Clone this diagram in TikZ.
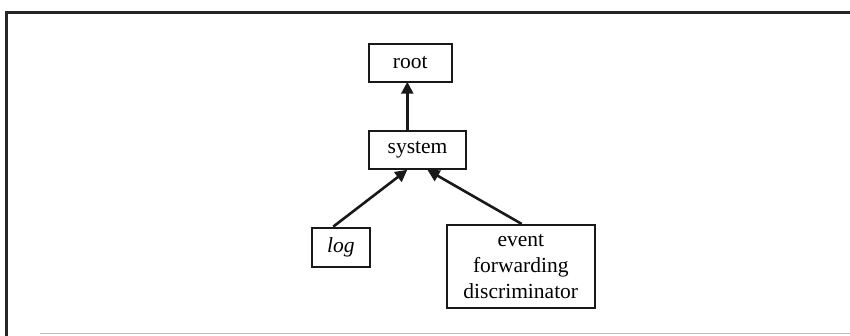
\documentclass[tikz,border=0pt]{standalone}
\usepackage{fontspec}
\setmainfont{Liberation Serif}
\usetikzlibrary{arrows.meta}
\begin{document}
\begin{tikzpicture}[x=1pt,y=-1pt,
  box/.style={draw=black!90, line width=2.2pt, inner sep=0pt, align=center,
    font=\fontsize{21.5}{26}\selectfont},
  arr/.style={draw=black!90, line width=2.6pt,
    -{Triangle[length=12pt,width=12pt]}, shorten >=-1pt},
  frameline/.style={draw=black!85, line width=3pt}]
\useasboundingbox (0,0) rectangle (850,336);
% outer frame
\draw[frameline] (850,13) -- (6.5,13) -- (6.5,336);
\draw[black!25, line width=0.8pt] (40,333) -- (850,333);
% class boxes
\node[box, minimum width=82.7pt, minimum height=37.7pt] (root) at (410.3,62.8) {root};
\node[box, minimum width=97pt, minimum height=38.6pt] (system) at (417.5,150) {system};
\node[box, minimum width=58.3pt, minimum height=39pt] (log) at (340.8,247.2) {\itshape log};
\node[box, minimum width=148.3pt, minimum height=83.3pt] (efd) at (520.8,266.7)
  {event\\forwarding\\discriminator};
% attachment points of the connectors
\coordinate (xa) at (407.3,0);
\coordinate (xb) at (333.3,0);
\coordinate (xc) at (406.5,0);
\coordinate (xd) at (521.7,0);
\coordinate (xe) at (428.3,0);
% containment connectors
\draw[arr] (system.north -| xa) -- (root.south -| xa);
\draw[arr] (log.north -| xb) -- (system.south -| xc);
\draw[arr] (efd.north -| xd) -- (system.south -| xe);
\end{tikzpicture}
\end{document}
